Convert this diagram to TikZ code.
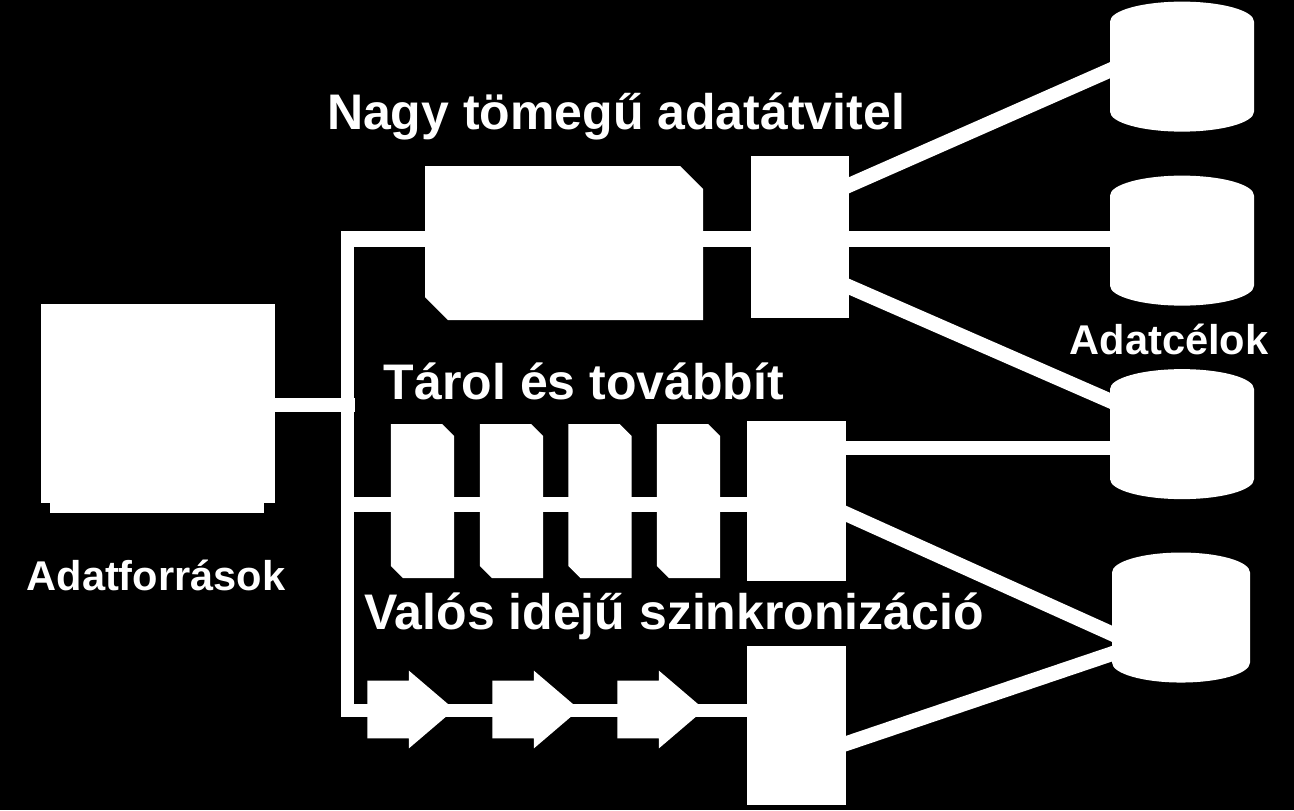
\documentclass[tikz,border=0pt]{standalone}
\usepackage{fontspec}
\setmainfont{Liberation Sans}
\usetikzlibrary{shapes.geometric, shapes.misc, shapes.arrows}
\tikzset{
    block/.style={rectangle, fill=white, inner sep=0pt, minimum width=#1},
    slab/.style={chamfered rectangle, fill=white, chamfered rectangle corners={north east, south west}, inner sep=#1, chamfered rectangle xsep=#1, chamfered rectangle ysep=#1},
    disk/.style={cylinder, shape border rotate=90, aspect=3, fill=white, inner sep=3.33pt, minimum width=72pt, minimum height=65pt},
    pusher/.style={single arrow, anchor=tail, fill=white, inner sep=0pt, minimum height=43.5pt, text height=28.5pt, text depth=0pt, text width=0pt, single arrow head extend=5pt, single arrow tip angle=81},
    link/.style={white, line width=7.4pt},
    title/.style={text=white, font=\bfseries\fontsize{25}{25}\selectfont, inner sep=0pt},
    caption/.style={text=white, font=\bfseries\fontsize{20.8}{21}\selectfont, inner sep=0pt}
}
\begin{document}
\begin{tikzpicture}[x=0.5pt, y=-0.5pt]
    \fill[black] (0,0) rectangle (1294,810);
    \useasboundingbox (0,0) rectangle (1294,810);

    % wire ends
    \coordinate (srcout) at (270,404.5);
    \coordinate (bustop) at (347.5,239);
    \coordinate (busjoin) at (355,404.5);
    \coordinate (busmid) at (347.5,504.5);
    \coordinate (busbot) at (347.5,710.5);
    \coordinate (a1) at (845,187); \coordinate (a2) at (845,239); \coordinate (a3) at (845,285);
    \coordinate (b1) at (842,448); \coordinate (b2) at (842,512);
    \coordinate (c1) at (842,745);
    \coordinate (t1) at (1115,68); \coordinate (t2) at (1115,239); \coordinate (t3) at (1115,403);
    \coordinate (t4) at (1115,448); \coordinate (t5) at (1117,636); \coordinate (t6) at (1117,652);

    % wires first, shapes on top
    \draw[link, line width=7pt] (srcout) -- (busjoin);
    \draw[link, line width=6.6pt] (bustop |- 0,232) -- (busbot);
    \draw[link, line width=8pt] (bustop) ++(-6.5,0) -- (a2) -- (t2);
    \draw[link, line width=7.5pt] (busmid) -- (b2 |- busmid);
    \draw[link, line width=6.6pt] (busbot) ++(-6.5,0) -- (c1 |- busbot);
    \draw[link] (a1) -- (t1);
    \draw[link] (a3) -- (t3);
    \draw[link, line width=7pt] (b1) -- (t4);
    \draw[link] (b2) -- (t5);
    \draw[link] (c1) -- (t6);

    \node[block=107pt, minimum height=100pt] (srcbase) at (157,413) {};
    \node[block=117pt, minimum height=99.5pt] (srcbox) at (158,403.5) {};

    \node[slab=5.75pt, minimum width=139pt, minimum height=77pt] (bulk) at (564,243) {};
    \foreach \n/\x in {s1/422.5, s2/511.5, s3/600, s4/688.5}
        \node[slab=3pt, minimum width=31.7pt, minimum height=77pt] (\n) at (\x,501) {};
    \foreach \n/\x in {p1/367, p2/492, p3/617}
        \node[pusher] (\n) at (\x,709.5) {};

    \node[block=49pt, minimum height=81pt] (sw1) at (800,237) {};
    \node[block=49.5pt, minimum height=80pt] (sw2) at (796.5,501) {};
    \node[block=49.5pt, minimum height=79.5pt] (sw3) at (796.5,725.5) {};

    \node[disk] (d1) at (1182,81) {};
    \node[disk] (d2) at (1182,255) {};
    \node[disk] (d3) at (1182,448.5) {};
    \node[disk, minimum width=69pt] (d4) at (1181,632) {};

    \node[title] (lbulk) at (616,116) {Nagy tömegű adatátvitel};
    \node[title] (lstore) at (584,381.5) {Tárol és továbbít};
    \node[title] (lsync) at (674,616) {Valós idejű szinkronizáció};
    \node[caption] (lsrc) at (156,575) {Adatforrások};
    \node[caption] (ldst) at (1169,339) {Adatcélok};
\end{tikzpicture}
\end{document}
